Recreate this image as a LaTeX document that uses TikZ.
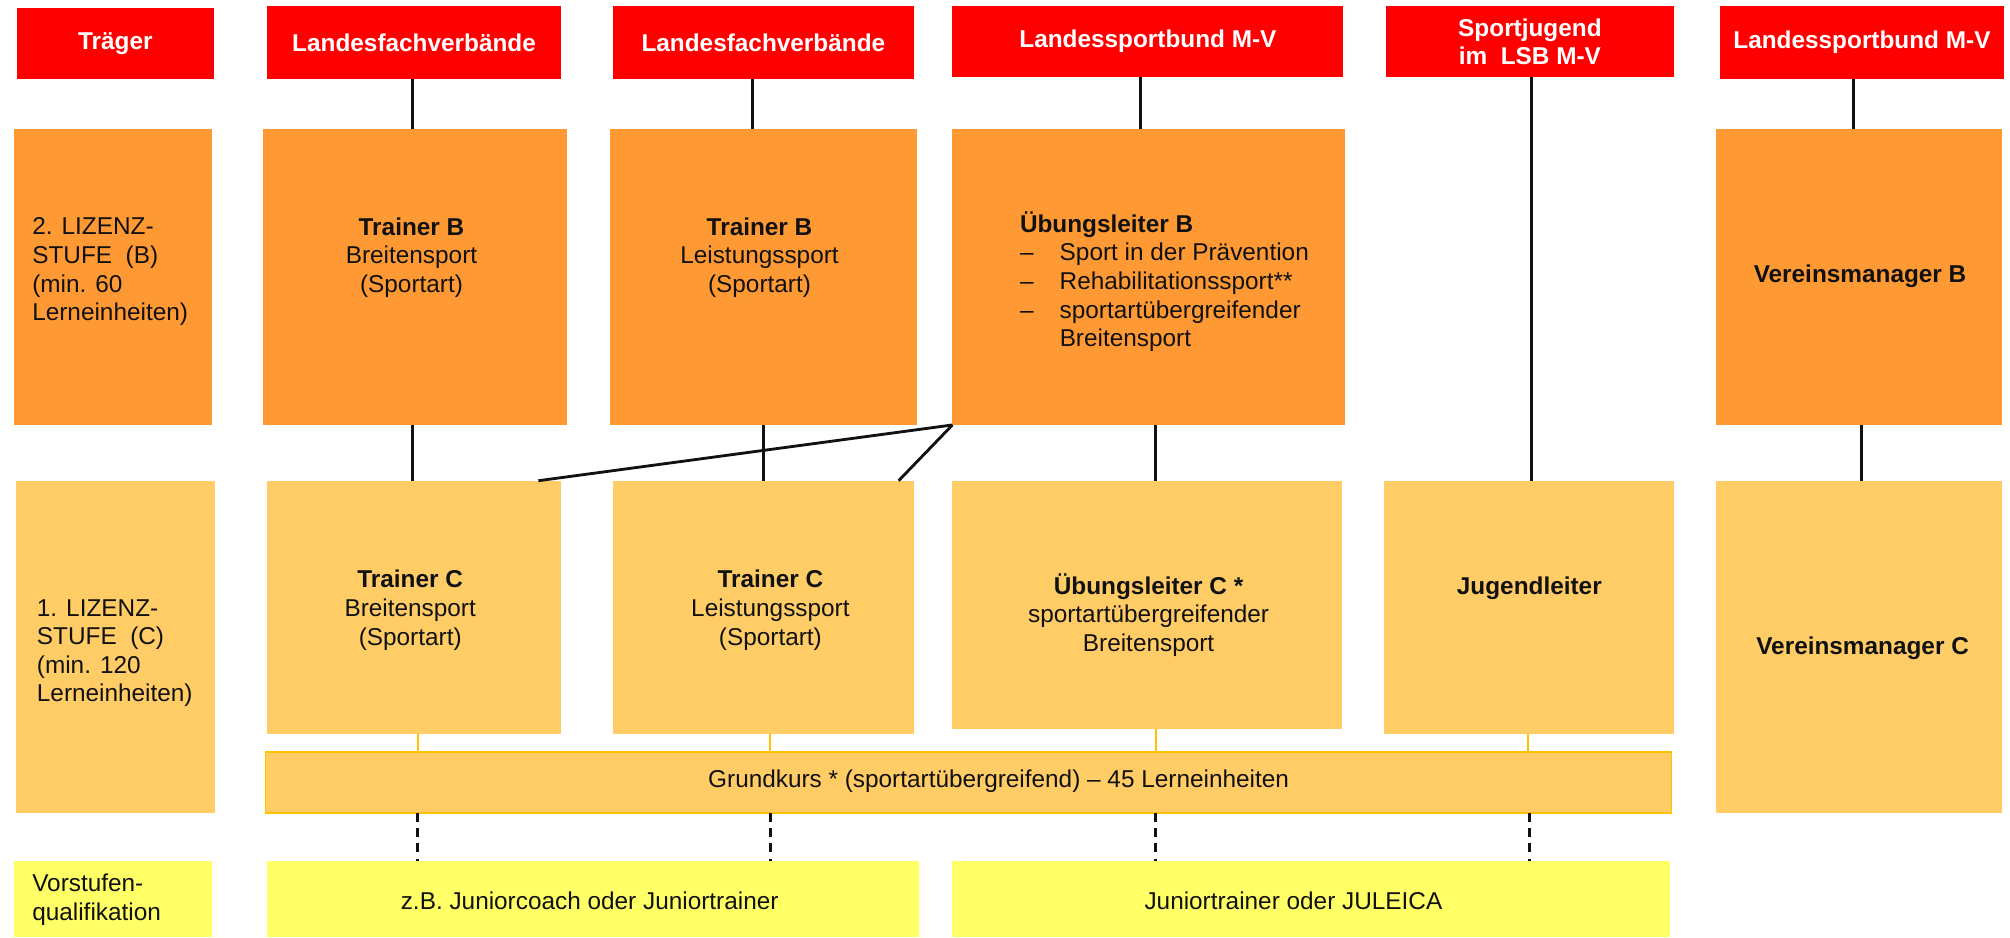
\documentclass[tikz,border=0pt]{standalone}
\usepackage{fontspec}
\setmainfont{Liberation Sans}
\usetikzlibrary{calc}
\definecolor{hdr}{HTML}{FF0000}
\definecolor{lvB}{HTML}{FF9933}
\definecolor{lvC}{HTML}{FFCC66}
\definecolor{vst}{HTML}{FFFF66}
\definecolor{gold}{HTML}{FFC000}
\definecolor{ink}{HTML}{111111}
\newcommand\mkbox[6]{\node[#1, minimum width={#5-#3}, minimum height={#6-#4}] (#2) at (#3,#4) {};}
\newcommand\vlink[4]{\path ([xshift=#3pt]#2.south) coordinate (vtmp);
  \draw[#1] (vtmp) -- (vtmp |- #4.north);}
\begin{document}
\begin{tikzpicture}[x=1pt,y=-1pt,
  box/.style={draw=none, inner sep=0pt, outer sep=0pt, anchor=north west},
  hbox/.style={box, fill=hdr},
  bbox/.style={box, fill=lvB},
  cbox/.style={box, fill=lvC},
  ybox/.style={box, fill=vst},
  gbox/.style={box, fill=lvC, draw=gold, line width=1.3pt},
  htxt/.style={text=white, font=\fontsize{19}{22}\selectfont\bfseries, align=center, inner sep=0pt},
  btxt/.style={text=ink, font=\fontsize{19}{22.3}\selectfont, align=center, inner sep=0pt},
  ltxt/.style={btxt, align=left, anchor=west},
  conn/.style={draw=ink, line width=2.2pt},
  oconn/.style={draw=gold, line width=1.6pt},
  dconn/.style={draw=ink, line width=2.4pt, dash pattern=on 7pt off 5pt},
]
\useasboundingbox (0,0) rectangle (1568,731);
\fill[white] (0,0) rectangle (1568,731);

% header row
\mkbox{hbox}{hT}{13}{6}{167}{61.5}
\mkbox{hbox}{hL1}{208}{5}{438}{61.5}
\mkbox{hbox}{hL2}{478}{5}{713}{61.5}
\mkbox{hbox}{hLS}{743}{5}{1048}{60}
\mkbox{hbox}{hSJ}{1081}{5}{1306}{60}
\mkbox{hbox}{hLS2}{1342}{5}{1563}{61.5}
\node[htxt] (thT) at (hT) {Träger};
\node[htxt] (thL1) at (hL1) {Landesfachverbände};
\node[htxt] (thL2) at (hL2) {Landesfachverbände};
\node[htxt] (thLS) at (hLS) {Landessportbund M-V};
\node[htxt] (thSJ) at (hSJ) {Sportjugend\\im\ \ LSB M-V};
\node[htxt] (thLS2) at (hLS2) {Landessportbund M-V};

% B row
\mkbox{bbox}{bL}{11}{101}{165}{331.5}
\mkbox{bbox}{bT1}{205}{101}{442}{331.5}
\mkbox{bbox}{bT2}{476}{101}{715}{331.5}
\mkbox{bbox}{bU}{743}{101}{1049}{331.5}
\mkbox{bbox}{bV}{1339}{101}{1562}{331.5}

% C row
\mkbox{cbox}{cL}{12.5}{375}{168}{634.4}
\mkbox{cbox}{cT1}{208}{375}{438}{572.5}
\mkbox{cbox}{cT2}{478}{375}{713}{572.5}
\mkbox{cbox}{cU}{743}{375}{1047}{569}
\mkbox{cbox}{cJ}{1080}{375}{1306}{572.5}
\mkbox{cbox}{cV}{1339}{375}{1562}{634.4}

% Grundkurs bar
\mkbox{gbox}{gk}{207}{586.5}{1304}{634}

% Vorstufen row
\mkbox{ybox}{yL}{11}{671.3}{165}{731}
\mkbox{ybox}{yZ}{208}{671.3}{717}{731}
\mkbox{ybox}{yJ}{743}{671.3}{1303}{731}

% texts
\node[ltxt] (tLB) at (25,212) {2. LIZENZ-\\STUFE\ \ (B)\\(min. 60\\Lerneinheiten)};
\node[btxt] (tT1B) at (321,201) {\textbf{Trainer B}\\Breitensport\\(Sportart)};
\node[btxt] (tT2B) at (592.5,201) {\textbf{Trainer B}\\Leistungssport\\(Sportart)};
\node[ltxt] (tUB) at (795.5,219.7) {\textbf{Übungsleiter B}\\
  \makebox[31pt][l]{–}Sport in der Prävention\\
  \makebox[31pt][l]{–}Rehabilitationssport**\\
  \makebox[31pt][l]{–}sportartübergreifender\\
  \makebox[31pt][l]{}Breitensport};
\node[btxt] (tVB) at (1451,215.8) {\textbf{Vereinsmanager B}};

\node[ltxt] (tLC) at (28.6,509.6) {1. LIZENZ-\\STUFE\ \ (C)\\(min. 120\\Lerneinheiten)};
\node[btxt] (tT1C) at (320,476) {\textbf{Trainer C}\\Breitensport\\(Sportart)};
\node[btxt] (tT2C) at (601,476) {\textbf{Trainer C}\\Leistungssport\\(Sportart)};
\node[btxt] (tUC) at (896,479.7) {\textbf{Übungsleiter C *}\\sportartübergreifender\\Breitensport};
\node[btxt] (tJ) at (1193,458.9) {\textbf{Jugendleiter}};
\node[btxt] (tVC) at (1453,505.7) {\textbf{Vereinsmanager C}};
\node[btxt] (tgk) at (779,609.7) {Grundkurs * (sportartübergreifend) – 45 Lerneinheiten};
\node[ltxt] (tyL) at (25,702) {Vorstufen-\\qualifikation};
\node[btxt] (tyZ) at (460,703) {z.B. Juniorcoach oder Juniortrainer};
\node[btxt] (tyJ) at (1009,703) {Juniortrainer oder JULEICA};

% black connectors
\vlink{conn}{hL1}{-1}{bT1}
\vlink{conn}{bT1}{-1.5}{cT1}
\vlink{conn}{hL2}{-8.5}{bT2}
\vlink{conn}{bT2}{0}{cT2}
\vlink{conn}{hLS}{-5.5}{bU}
\vlink{conn}{bU}{5.5}{cU}
\vlink{conn}{hSJ}{1.5}{cJ}
\vlink{conn}{hLS2}{-6.5}{bV}
\vlink{conn}{bV}{1.5}{cV}
\draw[conn] (bU.south west) -- ($(cT1.north east)+(-18,0)$);
\draw[conn] (bU.south west) -- ($(cT2.north east)+(-12,0)$);

% orange connectors
\vlink{oconn}{cT1}{3}{gk}
\vlink{oconn}{cT2}{5.5}{gk}
\vlink{oconn}{cU}{6.5}{gk}
\vlink{oconn}{cJ}{-1}{gk}

% dashed connectors
\path ([xshift=3pt]cT1.south) coordinate (d1);
\draw[dconn] (d1 |- gk.south) -- (d1 |- yZ.north);
\path ([xshift=5.5pt]cT2.south) coordinate (d2);
\draw[dconn] (d2 |- gk.south) -- (d2 |- yZ.north);
\path ([xshift=6.5pt]cU.south) coordinate (d3);
\draw[dconn] (d3 |- gk.south) -- (d3 |- yJ.north);
\path ([xshift=0.5pt]cJ.south) coordinate (d4);
\draw[dconn] (d4 |- gk.south) -- (d4 |- yJ.north);
\end{tikzpicture}
\end{document}
